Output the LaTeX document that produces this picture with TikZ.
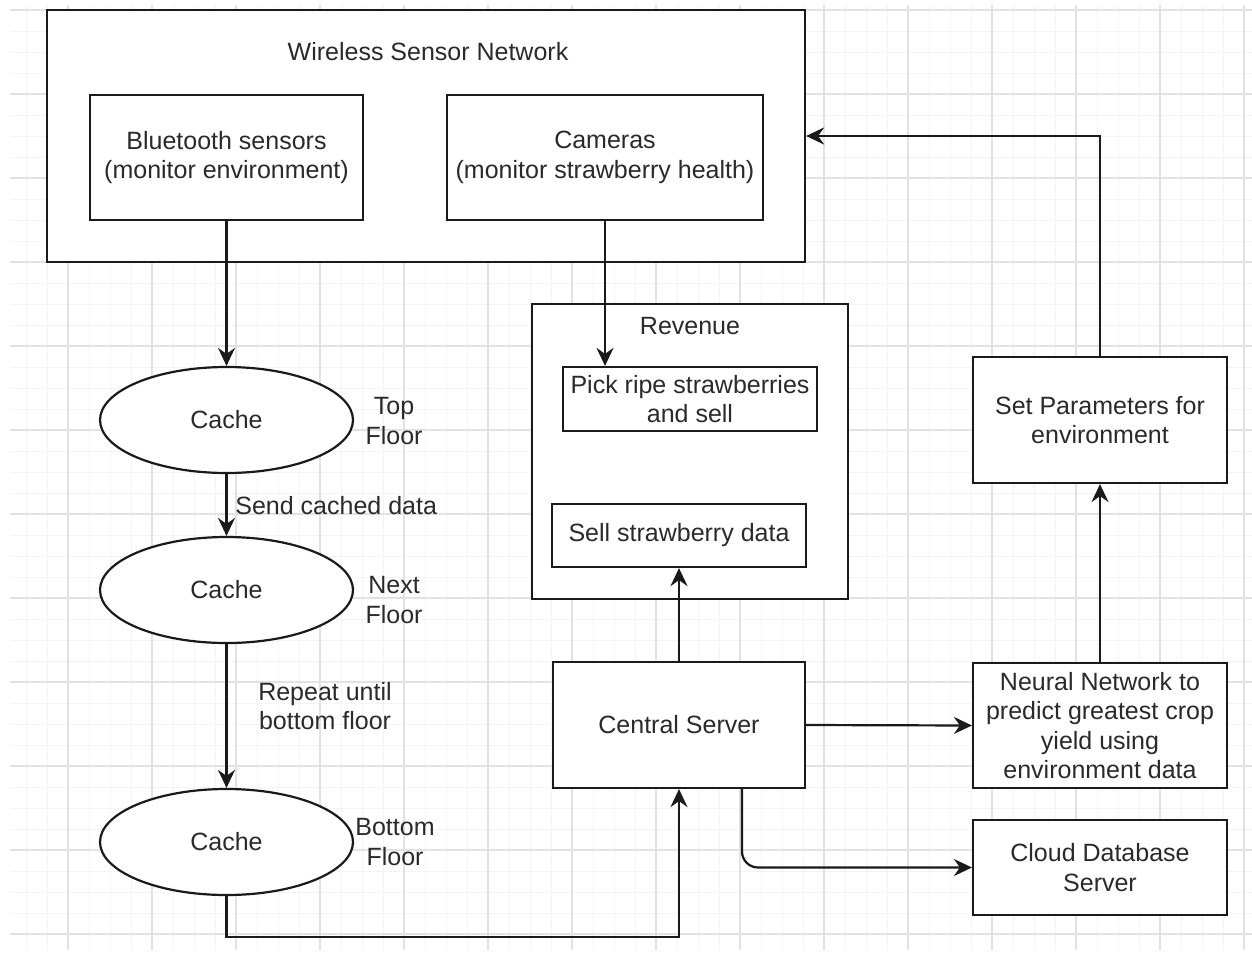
\documentclass[tikz,border=0pt]{standalone}
\usepackage{fontspec}
\setmainfont{Liberation Sans}
\usetikzlibrary{arrows.meta,shapes.geometric}
\definecolor{gridmajor}{HTML}{E2E2E2}
\definecolor{gridminor}{HTML}{F4F4F4}
\definecolor{ink}{HTML}{1A1A1A}
\definecolor{txt}{HTML}{2A2A2A}
\begin{document}
\begin{tikzpicture}[x=0.5pt, y=-0.5pt,
  font=\fontsize{12.5pt}{14.75pt}\selectfont,
  every node/.style={text=txt},
  box/.style={draw=ink, line width=1.1pt, fill=white, align=center, inner sep=0pt},
  cachebox/.style={box, ellipse, minimum width=126.5pt, minimum height=53pt},
  plain/.style={align=center, inner sep=0pt},
  link/.style={draw=ink, line width=1.1pt},
  arr/.style={link, -{Stealth[length=9pt, width=8.5pt, inset=3pt]}},
  minorline/.style={draw=gridminor, line width=0.5pt},
  majorline/.style={draw=gridmajor, line width=0.6pt}]

% canvas and grid
\useasboundingbox (0,0) rectangle (1252,953);
\fill[white] (0,0) rectangle (1252,953);
\foreach \x in {26,47,...,1250} \draw[minorline] (\x,5) -- (\x,950);
\foreach \y in {31,52,...,950} \draw[minorline] (10,\y) -- (1252,\y);
\foreach \x in {68,152,...,1250} \draw[majorline] (\x,5) -- (\x,950);
\foreach \y in {10,94,...,950} \draw[majorline] (10,\y) -- (1252,\y);

% wireless sensor network
\node[box, minimum width=379pt, minimum height=126pt] (wsn) at (426,136) {};
\node[plain] (wsntitle) at (428,52) {Wireless Sensor Network};
\node[box, minimum width=136.5pt, minimum height=62.5pt] (bt) at (226.5,157.5)
  {Bluetooth sensors\\(monitor environment)};
\node[box, minimum width=158pt, minimum height=62.5pt] (cam) at (605,157.5)
  {Cameras\\(monitor strawberry health)};

% caches per floor
\node[cachebox] (cache1) at (226.5,420) {Cache};
\node[cachebox] (cache2) at (226.5,590) {Cache};
\node[cachebox] (cache3) at (226.5,842) {Cache};
\node[plain] (floor1) at (394,421) {Top\\Floor};
\node[plain] (floor2) at (394,600) {Next\\Floor};
\node[plain] (floor3) at (395,842) {Bottom\\Floor};

% revenue
\node[box, minimum width=158pt, minimum height=147.5pt] (rev) at (690,451.5) {};
\node[plain] (revtitle) at (690,326) {Revenue};
\node[box, minimum width=127pt, minimum height=32pt] (pick) at (690,399)
  {Pick ripe strawberries\\and sell};
\node[box, minimum width=127pt, minimum height=31.5pt] (sell) at (679,535.5)
  {Sell strawberry data};

% servers and processing
\node[box, minimum width=126pt, minimum height=63pt] (central) at (679,725) {Central Server};
\node[box, minimum width=127pt, minimum height=62.5pt] (nn) at (1100,725.5)
  {Neural Network to\\predict greatest crop\\yield using\\environment data};
\node[box, minimum width=127pt, minimum height=63pt] (params) at (1100,420)
  {Set Parameters for\\environment};
\node[box, minimum width=127pt, minimum height=47.5pt] (cloud) at (1100,867.5)
  {Cloud Database\\Server};

% connectors
\draw[arr] (bt.south) -- (cache1.north);
\draw[arr] (cam.south) -- (cam.south |- pick.north);
\draw[arr] (cache1.south) -- (cache2.north);
\node[plain, anchor=west] (sendlbl) at (235,506) {Send cached data};
\draw[arr] (cache2.south) -- (cache3.north);
\node[plain] (repeatlbl) at (325,706) {Repeat until\\bottom floor};
\draw[arr] (cache3.south) -- ++(0,41) -| (central.south);
\draw[arr] (central.north) -- (sell.south);
\draw[arr] (central.east) -- (nn.west);
\draw[arr] (nn.north) -- (params.south);
\draw[arr] (params.north) |- (wsn.east);
\draw[arr, rounded corners=8pt] ([xshift=31.5pt]central.south) |- (cloud.west);
\end{tikzpicture}
\end{document}
